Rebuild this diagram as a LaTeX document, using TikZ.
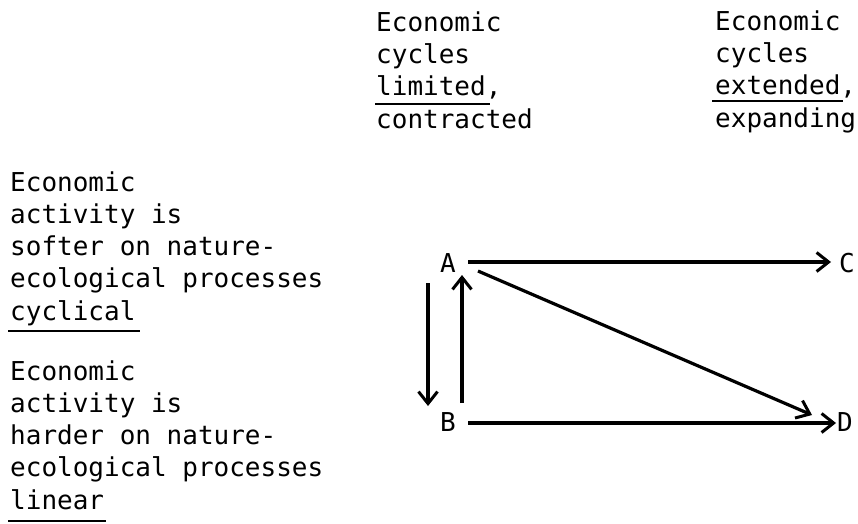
\documentclass[tikz,border=0pt]{standalone}
\usepackage{fontspec}
\setmainfont{DejaVu Sans Mono}
\usetikzlibrary{arrows.meta,calc}
\begin{document}
\begin{tikzpicture}[x=1pt,y=-1pt,
  txt/.style={font=\fontsize{26}{32.2}\selectfont, align=left, inner sep=0pt, anchor=base west},
  lbl/.style={font=\fontsize{26}{32}\selectfont, inner sep=0pt},
  arr/.style={line width=3.2pt, -{Straight Barb[length=12pt,width=19pt,line width=3pt]}},
  uline/.style={line width=1.4pt}]
\useasboundingbox (0,0) rectangle (858,523);
% headers (base anchor = last line)
\node[txt] (h1) at (376,128) {Economic\\cycles\\limited,\\contracted};
\node[txt] (h2) at (715,127) {Economic\\cycles\\extended,\\expanding};
\draw[uline] (375,104) -- (490,104);
\draw[uline] (712,101) -- (843,101);
% left texts
\node[txt] (s1) at (10,320) {Economic\\activity is\\softer on nature-\\ecological processes\\cyclical};
\node[txt] (s2) at (10,509) {Economic\\activity is\\harder on nature-\\ecological processes\\linear};
\draw[uline] (8,331) -- (140,331);
\draw[uline] (8,521) -- (106,521);
% diagram
\node[lbl] (A) at (448,263) {A};
\node[lbl] (B) at (448,422) {B};
\node[lbl] (C) at (847,263) {C};
\node[lbl] (D) at (845,422) {D};
\draw[arr] ($(A)+(20,-1)$) -- ($(C)+(-16,-1)$);
\draw[arr] ($(B)+(20,1)$) -- ($(D)+(-9,1)$);
\draw[arr] ($(A)+(30,8)$) -- ($(D)+(-33,-7)$);
\draw[arr] ($(B)+(14,-19)$) -- ($(A)+(14,12)$);
\draw[arr] ($(A)+(-20,20)$) -- ($(B)+(-20,-16)$);
\end{tikzpicture}
\end{document}
